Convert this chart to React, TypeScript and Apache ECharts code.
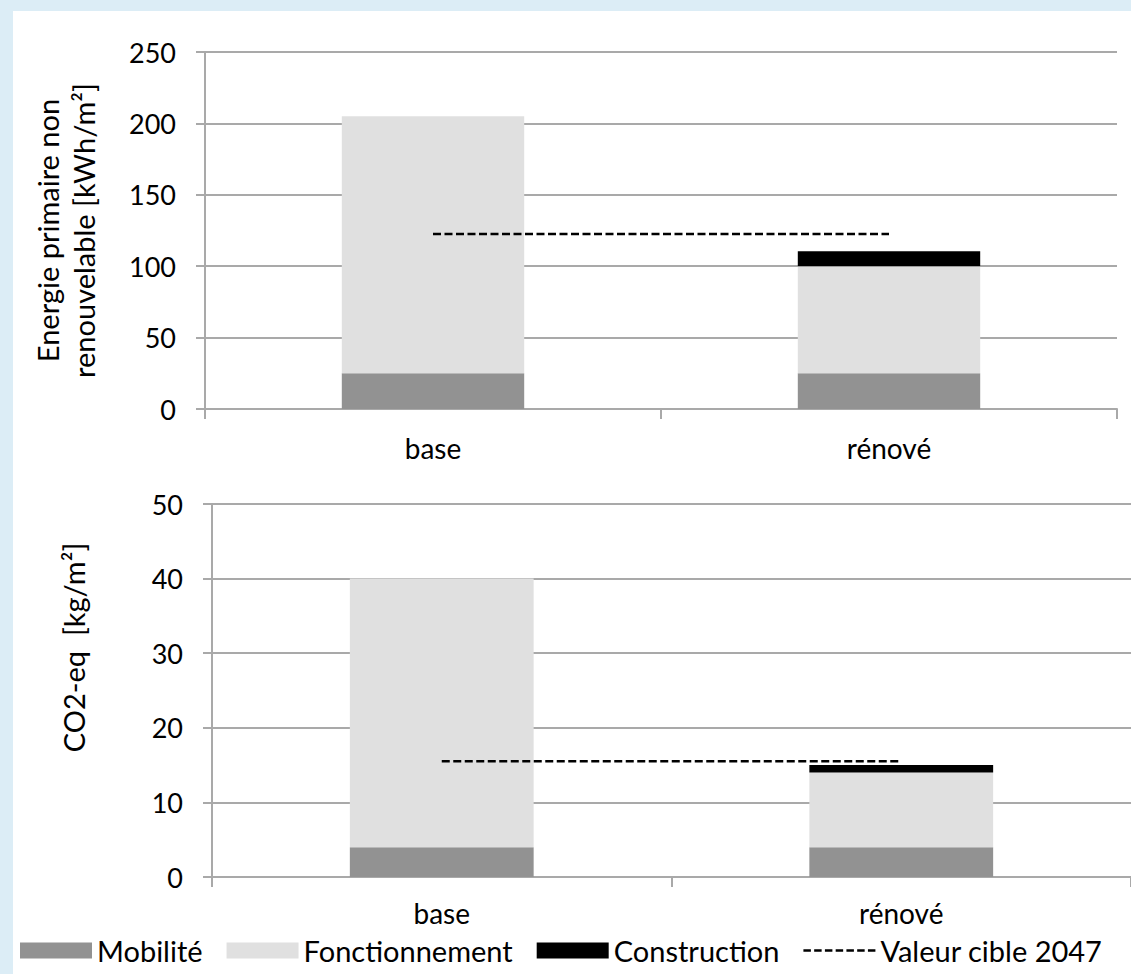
import React, { useEffect, useRef } from "react";
import * as echarts from "echarts";

const categories = ["base", "rénové"];
const seriesNames = ["Mobilité", "Fonctionnement", "Construction", "Valeur cible 2047"];

// Energie primaire non renouvelable [kWh/m2]
const energyMobilite = [25, 25];
const energyFonctionnement = [180, 75];
const energyConstruction = [null, 10.5];
const energyCible = [122.5, 122.5];
const energyTicks = { min: 0, max: 250, interval: 50 };

// CO2-eq [kg/m2]
const co2Mobilite = [4, 4];
const co2Fonctionnement = [36, 10];
const co2Construction = [null, 1];
const co2Cible = [15.5, 15.5];
const co2Ticks = { min: 0, max: 50, interval: 10 };

const FONT = "Lato";
const GRID_COLOR = "#a9a9a9";
const COLORS = ["#929292", "#e0e0e0", "#000000", "#000000"];

const dashIcon =
  "path://M0,0h8v2.5h-8z M11.5,0h8v2.5h-8z M23,0h8v2.5h-8z M34.5,0h8v2.5h-8z M46,0h8v2.5h-8z M57.5,0h8v2.5h-8z M69,0h8v2.5h-8z";

function makeXAxis(gridIndex: number, margin: number) {
  return {
    type: "category",
    gridIndex,
    data: categories,
    boundaryGap: true,
    axisLine: { show: true, lineStyle: { color: GRID_COLOR, width: 2 } },
    axisTick: { show: true, length: 10, interval: 0, lineStyle: { color: GRID_COLOR, width: 2 } },
    axisLabel: { color: "#000", fontFamily: FONT, fontSize: 28, margin, interval: 0 },
    splitLine: { show: false },
  };
}

function makeYAxis(gridIndex: number, ticks: { min: number; max: number; interval: number }, name: string, nameGap: number, padding: number[]) {
  return {
    type: "value",
    gridIndex,
    min: ticks.min,
    max: ticks.max,
    interval: ticks.interval,
    name,
    nameLocation: "middle",
    nameRotate: 90,
    nameGap,
    nameTextStyle: { color: "#000", fontFamily: FONT, fontSize: 29, lineHeight: 36, padding },
    axisLine: { show: true, lineStyle: { color: GRID_COLOR, width: 2 } },
    axisTick: { show: true, length: 9, lineStyle: { color: GRID_COLOR, width: 2 } },
    axisLabel: { color: "#000", fontFamily: FONT, fontSize: 27, margin: 29 },
    splitLine: { show: true, lineStyle: { color: GRID_COLOR, width: 2 } },
  };
}

function barSeries(name: string, data: (number | null)[], idx: number, stack: string, color: string) {
  return {
    type: "bar",
    name,
    xAxisIndex: idx,
    yAxisIndex: idx,
    stack,
    barWidth: "40%",
    data,
    itemStyle: { color },
  };
}

function lineSeries(name: string, data: number[], idx: number) {
  return {
    type: "line",
    name,
    xAxisIndex: idx,
    yAxisIndex: idx,
    data,
    symbol: "none",
    lineStyle: { color: "#000", width: 2.5, type: [8, 3.5] },
    itemStyle: { color: "#000" },
    z: 5,
  };
}

export default function App() {
  const ref = useRef<HTMLDivElement>(null);

  useEffect(() => {
    if (!ref.current) return;
    const chart = echarts.init(ref.current, null, { renderer: "svg" });
    chart.setOption({
      animation: false,
      backgroundColor: "transparent",
      textStyle: { fontFamily: FONT },
      color: COLORS,
      grid: [
        { left: 205, top: 52, width: 912, height: 357 },
        { left: 212, top: 504, width: 923, height: 373 },
      ],
      xAxis: [makeXAxis(0, 25), makeXAxis(1, 22)],
      yAxis: [
        makeYAxis(0, energyTicks, "Energie primaire non\nrenouvelable [kWh/m²]", 104, [0, 0, 0, 0]),
        makeYAxis(1, co2Ticks, "CO2-eq  [kg/m²]", 121, [0, 0, 0, 86]),
      ],
      legend: {
        left: 15,
        top: 931,
        itemWidth: 72,
        itemHeight: 16,
        itemGap: 24,
        selectedMode: false,
        textStyle: { color: "#000", fontFamily: FONT, fontSize: 29 },
        data: [
          { name: seriesNames[0], icon: "rect" },
          { name: seriesNames[1], icon: "rect" },
          { name: seriesNames[2], icon: "rect" },
          { name: seriesNames[3], icon: dashIcon },
        ],
      },
      series: [
        barSeries(seriesNames[0], energyMobilite, 0, "e", COLORS[0]),
        barSeries(seriesNames[1], energyFonctionnement, 0, "e", COLORS[1]),
        barSeries(seriesNames[2], energyConstruction, 0, "e", COLORS[2]),
        lineSeries(seriesNames[3], energyCible, 0),
        barSeries(seriesNames[0], co2Mobilite, 1, "c", COLORS[0]),
        barSeries(seriesNames[1], co2Fonctionnement, 1, "c", COLORS[1]),
        barSeries(seriesNames[2], co2Construction, 1, "c", COLORS[2]),
        lineSeries(seriesNames[3], co2Cible, 1),
      ],
    });
    return () => chart.dispose();
  }, []);

  return (
    <div style={{ position: "fixed", left: 0, top: 0, width: 1131, height: 974, background: "#dcedf6", overflow: "hidden" }}>
      <div style={{ position: "absolute", left: 13, top: 11, right: 0, bottom: 0, background: "#ffffff" }} />
      <div ref={ref} style={{ position: "absolute", left: 0, top: 0, width: 1131, height: 974 }} />
    </div>
  );
}
